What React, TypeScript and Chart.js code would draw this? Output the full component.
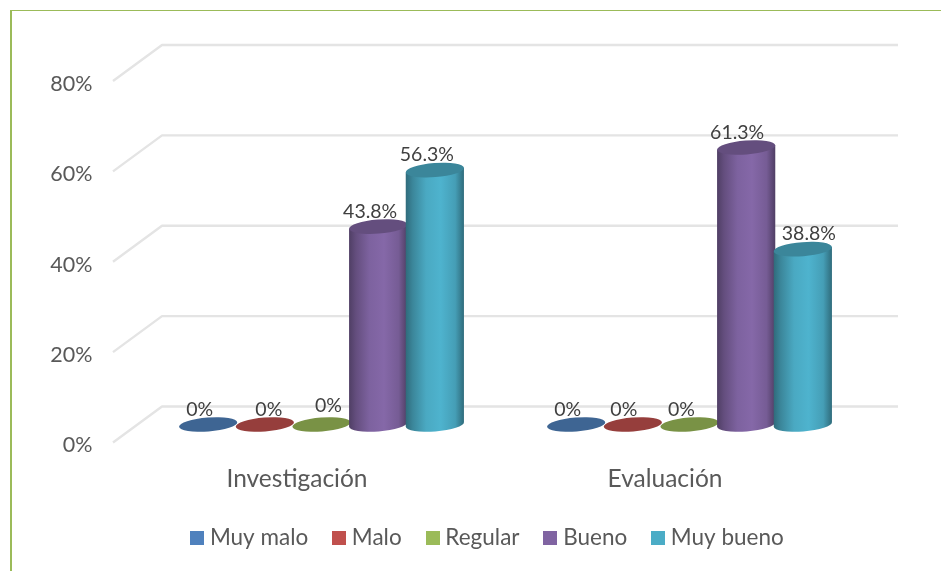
import React, { useEffect, useRef } from "react";
import { Chart, registerables } from "chart.js";

Chart.register(...registerables);

const categories = ["Investigación", "Evaluación"];
const seriesNames = ["Muy malo", "Malo", "Regular", "Bueno", "Muy bueno"];
const muyMalo = [0, 0];
const malo = [0, 0];
const regular = [0, 0];
const bueno = [43.8, 61.3];
const muyBueno = [56.3, 38.8];
const seriesColors = ["#4f81bd", "#c0504d", "#9bbb59", "#8064a2", "#4bacc6"];
const yTicks = [0, 20, 40, 60, 80];

const seriesValues = [muyMalo, malo, regular, bueno, muyBueno];
const FONT = "Lato, Carlito, sans-serif";
const TEXT = "#595959";
const DEPTH_X = 24.5;
const DEPTH_Y = 18;
const TILT = (-4.5 * Math.PI) / 180;
const RY = 7;
const LEGEND_FONT = 22.5;
const LEGEND_PAD = 29.5;

// hand-placed data label nudges [dx, dy], per series then per category
const labelNudge = [
  [[-8.5, -15], [-8.5, -15]],
  [[4, -15], [-9, -15]],
  [[7, -19], [-8, -15]],
  [[-8, -15], [-9, -15]],
  [[-8, -15], [6, -15]],
];

function shade(hex: string, k: number) {
  const n = parseInt(hex.slice(1), 16);
  const c = [(n >> 16) & 255, (n >> 8) & 255, n & 255].map((v) =>
    Math.max(0, Math.min(255, Math.round(v * k)))
  );
  return `rgb(${c[0]},${c[1]},${c[2]})`;
}

function swatch(color: string) {
  const c = document.createElement("canvas");
  c.width = 14;
  c.height = 14;
  const g = c.getContext("2d")!;
  g.fillStyle = color;
  g.fillRect(0, 0, 14, 14);
  return c;
}

function drawCylinder(ctx: CanvasRenderingContext2D, cx: number, top: number, base: number, w: number, color: string) {
  const rx = w / 2;
  const dx = rx * Math.cos(TILT);
  const dy = rx * Math.sin(TILT);
  if (base - top > 0.5) {
    const g = ctx.createLinearGradient(cx - rx, 0, cx + rx, 0);
    g.addColorStop(0, shade(color, 0.62));
    g.addColorStop(0.12, shade(color, 0.78));
    g.addColorStop(0.35, shade(color, 0.98));
    g.addColorStop(0.6, shade(color, 1.04));
    g.addColorStop(0.85, shade(color, 0.92));
    g.addColorStop(1, shade(color, 0.62));
    ctx.fillStyle = g;
    ctx.beginPath();
    ctx.moveTo(cx - dx, top - dy);
    ctx.lineTo(cx - dx, base - dy);
    ctx.ellipse(cx, base, rx, RY, TILT, Math.PI, 0, true);
    ctx.lineTo(cx + dx, top + dy);
    ctx.closePath();
    ctx.fill();
  }
  ctx.fillStyle = shade(color, 0.78);
  ctx.beginPath();
  ctx.ellipse(cx, top, rx, RY, TILT, 0, Math.PI * 2);
  ctx.fill();
}

const cylinderPlugin = {
  id: "cylinder3d",
  afterLayout(chart: any) {
    const lg = chart.legend;
    if (lg) {
      lg.left = 38.5;
      lg.right = 941;
      lg.top = 538 - LEGEND_PAD - LEGEND_FONT / 2;
      lg.bottom = lg.top + lg.height;
      lg.adjustHitBoxes();
    }
  },
  beforeDatasetsDraw(chart: any) {
    const { ctx, scales } = chart;
    const x = scales.x;
    const y = scales.y;
    ctx.save();
    ctx.strokeStyle = "#e4e4e4";
    ctx.lineWidth = 2.4;
    ctx.lineJoin = "round";
    yTicks.forEach((t) => {
      const p = y.getPixelForValue(t);
      ctx.beginPath();
      ctx.moveTo(x.left - DEPTH_X, p + DEPTH_Y);
      ctx.lineTo(x.left + DEPTH_X, p - DEPTH_Y);
      ctx.lineTo(x.right + DEPTH_X, p - DEPTH_Y);
      ctx.stroke();
    });
    ctx.restore();

    ctx.save();
    seriesValues.forEach((_, di) => {
      const meta = chart.getDatasetMeta(di);
      meta.data.forEach((bar: any) => {
        drawCylinder(ctx, bar.x, bar.y, bar.base, bar.width, seriesColors[di]);
      });
    });
    ctx.font = `19.5px ${FONT}`;
    ctx.fillStyle = "#404040";
    ctx.textAlign = "center";
    ctx.textBaseline = "middle";
    seriesValues.forEach((vals, di) => {
      const meta = chart.getDatasetMeta(di);
      meta.data.forEach((bar: any, i: number) => {
        const [dx, dy] = labelNudge[di][i];
        ctx.fillText(`${vals[i]}%`, bar.x + dx, bar.y + dy);
      });
    });
    ctx.restore();
    return false;
  },
};

export default function App() {
  const ref = useRef<HTMLCanvasElement>(null);
  useEffect(() => {
    const chart = new Chart(ref.current!, {
      type: "bar",
      data: {
        labels: categories,
        datasets: seriesNames.map((name, i) => ({
          label: name,
          data: seriesValues[i],
          backgroundColor: seriesColors[i],
        })),
      },
      options: {
        responsive: false,
        animation: false,
        datasets: { bar: { categoryPercentage: 0.77, barPercentage: 1.03 } },
        layout: { padding: { top: 63, right: 67.5, left: 0, bottom: 0 } },
        scales: {
          x: {
            grid: { display: false, drawTicks: false },
            border: { display: false },
            ticks: {
              color: TEXT,
              font: { family: FONT, size: 24.5 },
              padding: 39.5,
              labelOffset: -DEPTH_X,
              maxRotation: 0,
            },
            afterFit: (s: any) => {
              s.height = 84.5;
            },
          },
          y: {
            min: 0,
            max: 80,
            grid: { display: false, drawTicks: false },
            border: { display: false },
            afterBuildTicks: (s: any) => {
              s.ticks = yTicks.map((value) => ({ value }));
            },
            ticks: {
              color: TEXT,
              font: { family: FONT, size: 21.5 },
              padding: 45,
              labelOffset: 21,
              callback: (v: any) => `${v}%`,
            },
            afterFit: (s: any) => {
              s.width = 137.5;
            },
          },
        },
        plugins: {
          tooltip: { enabled: false },
          legend: {
            position: "bottom",
            labels: {
              color: TEXT,
              font: { family: FONT, size: LEGEND_FONT },
              padding: LEGEND_PAD,
              usePointStyle: true,
              pointStyleWidth: 2.9,
              boxHeight: 14,
              generateLabels: (c: any) =>
                Chart.defaults.plugins.legend.labels.generateLabels(c).map((it: any, i: number) => ({
                  ...it,
                  pointStyle: swatch(seriesColors[i]),
                })),
            },
          },
        },
      } as any,
      plugins: [cylinderPlugin as any],
    });
    return () => chart.destroy();
  }, []);
  return (
    <div style={{ position: "absolute", left: 0, top: 0, width: 941, height: 571, background: "#fff", overflow: "hidden" }}>
      <div
        style={{
          position: "absolute",
          left: 10,
          top: 10,
          right: -4,
          bottom: -4,
          borderTop: "1.5px solid #9bbb59",
          borderLeft: "2px solid #9bbb59",
        }}
      />
      <canvas
        ref={ref}
        width={941}
        height={571}
        style={{ position: "absolute", left: 0, top: 0, width: 941, height: 571, filter: "blur(0.45px)" }}
      />
    </div>
  );
}
